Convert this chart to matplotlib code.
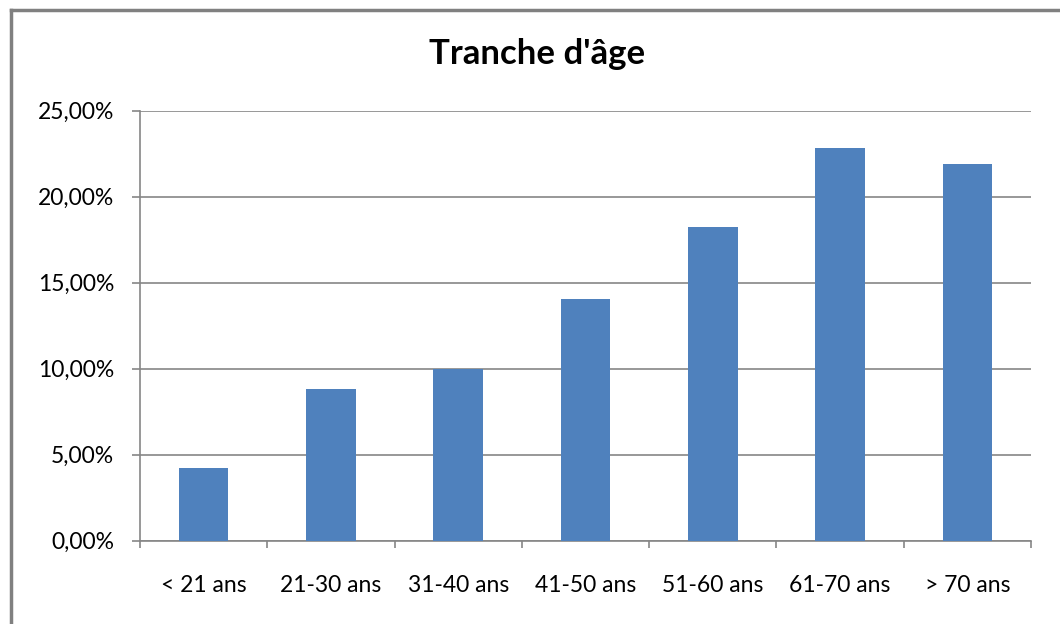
import matplotlib
matplotlib.use("Agg")
import matplotlib.pyplot as plt
from matplotlib.ticker import FuncFormatter, FixedLocator
from matplotlib.lines import Line2D

categories = ["< 21 ans", "21-30 ans", "31-40 ans", "41-50 ans", "51-60 ans", "61-70 ans", "> 70 ans"]
values = [4.21, 8.79, 10.0, 14.02, 18.24, 22.82, 21.89]
yticks = [0, 5, 10, 15, 20, 25]
title = "Tranche d'âge"

plt.rcParams['font.family'] = ['Lato', 'DejaVu Sans']

fig = plt.figure(figsize=(10.6, 6.24), dpi=100)
ax = fig.add_axes([140/1060, 1-540.5/624, (1031-140)/1060, (540.5-110.5)/624])

x = list(range(len(categories)))
ax.bar(x, values, width=0.39, color="#4F81BD", zorder=3)
ax.set_xlim(-0.5, len(categories)-0.5)
ax.set_ylim(0, 25)

grid_c = "#868686"
ax.set_yticks(yticks)
ax.yaxis.set_major_formatter(FuncFormatter(lambda v, p: f"{v:.2f}".replace(".", ",") + "%"))
ax.yaxis.grid(True, color=grid_c, linewidth=1.2, zorder=0)
ax.set_axisbelow(True)

ax.set_xticks(x)
ax.set_xticklabels(categories)
ax.xaxis.set_minor_locator(FixedLocator([i - 0.5 for i in range(len(categories)+1)]))
ax.tick_params(axis='x', which='major', length=0, pad=25, labelsize=16.5, colors='black')
ax.tick_params(axis='x', which='minor', length=5, width=1.2, color=grid_c, direction='out')
ax.tick_params(axis='y', length=5.5, width=1.2, color=grid_c, labelsize=16.5, pad=13, labelcolor='black')

for s in ['top', 'right']:
    ax.spines[s].set_visible(False)
for s in ['left', 'bottom']:
    ax.spines[s].set_color(grid_c)
    ax.spines[s].set_linewidth(1.2)

fig.text(537/1060, 1-54/624, title, ha='center', va='center', fontsize=25, fontweight='bold')

# outer frame (left and top edges visible)
fig.add_artist(Line2D([10.5/1060, 10.5/1060], [0, 1-9.5/624], transform=fig.transFigure, color="#808080", linewidth=2.5))
fig.add_artist(Line2D([10.5/1060, 1], [1-9.5/624, 1-9.5/624], transform=fig.transFigure, color="#808080", linewidth=2.5))

fig.savefig("out.png", dpi=100)
